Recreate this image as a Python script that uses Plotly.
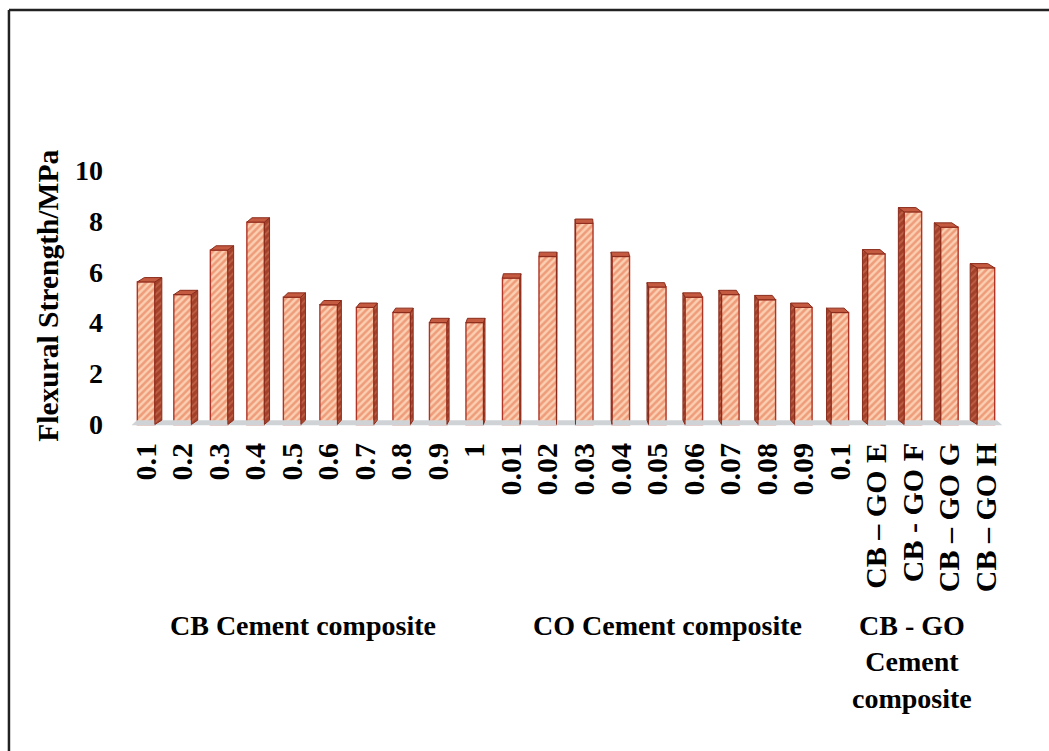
import plotly.graph_objects as go

# Flexural strength of the cement composites (MPa)
tick_labels = [
    "0.1", "0.2", "0.3", "0.4", "0.5", "0.6", "0.7", "0.8", "0.9", "1",
    "0.01", "0.02", "0.03", "0.04", "0.05", "0.06", "0.07", "0.08", "0.09", "0.1",
    "CB – GO E", "CB - GO F", "CB – GO G", "CB – GO H",
]
strength = [
    5.6, 5.1, 6.85, 7.95, 5.0, 4.7, 4.6, 4.4, 4.0, 4.0,
    5.75, 6.6, 7.9, 6.6, 5.4, 5.0, 5.1, 4.9, 4.6, 4.4,
    6.7, 8.35, 7.75, 6.15,
]
group_names = ["CB Cement composite", "CO Cement composite", "CB - GO<br>Cement<br>composite"]
group_first = [0, 10, 20]
group_last = [9, 19, 23]
y_ticks = [0, 2, 4, 6, 8, 10]

FONT = "Liberation Serif"
positions = list(range(len(strength)))

BAR_W = 0.48          # front-face width (category units)
DEPTH_K = 0.0166      # perspective: side offset per unit distance from centre
VANISH = 11.5         # horizontal vanishing position (category units)
RISE = 0.17           # top face rise (value units)

# side faces and top caps of the pseudo-3D bars, built from the values
side_x, side_y, cap_x, cap_y = [], [], [], []
for i, v in zip(positions, strength):
    dx = -DEPTH_K * (i - VANISH)
    edge = i + BAR_W / 2 if dx > 0 else i - BAR_W / 2
    side_x += [edge, edge, edge + dx, edge + dx, edge, None]
    side_y += [0, v, v + RISE, RISE, 0, None]
    lx, rx = i - BAR_W / 2, i + BAR_W / 2
    cap_x += [lx, rx, rx + dx, lx + dx, lx, None]
    cap_y += [v, v, v + RISE, v + RISE, v, None]

fig = go.Figure()

# floor strip
fig.add_trace(go.Scatter(
    x=[-0.4, 23.45, 23.3, -0.25, -0.4],
    y=[-0.03, -0.03, 0.17, 0.17, -0.03],
    fill="toself", mode="lines", line=dict(width=0),
    fillcolor="#cfd3d6", hoverinfo="skip", showlegend=False,
))

# side faces
fig.add_trace(go.Scatter(
    x=side_x, y=side_y, fill="toself", mode="lines",
    line=dict(color="#8a2c1c", width=1),
    fillcolor="#a3402a",
    fillpattern=dict(shape="/", bgcolor="#a3402a", fgcolor="#d8805f", size=5, solidity=0.35),
    hoverinfo="skip", showlegend=False,
))

# top caps
fig.add_trace(go.Scatter(
    x=cap_x, y=cap_y, fill="toself", mode="lines",
    line=dict(color="#8a2c1c", width=1),
    fillcolor="#c45a40", hoverinfo="skip", showlegend=False,
))

# front faces
fig.add_trace(go.Bar(
    x=positions, y=strength, width=BAR_W,
    marker=dict(
        color="#f8c1a0",
        line=dict(color="#b03526", width=1.4),
        pattern=dict(shape="/", bgcolor="#fbcfb2", fgcolor="#e26a42", size=5, solidity=0.52),
    ),
    hoverinfo="skip", showlegend=False,
))

fig.update_layout(
    width=1049, height=751,
    margin=dict(l=126, r=43, t=119, b=324),
    paper_bgcolor="white", plot_bgcolor="white",
    font=dict(family=FONT, color="black"),
    bargap=0.5,
    xaxis=dict(
        range=[-0.55, 23.55], tickmode="array",
        tickvals=positions, ticktext=tick_labels, tickangle=-90,
        tickfont=dict(family=FONT, size=30, weight="bold", color="black"),
        showgrid=False, zeroline=False, showline=False, ticks="",
        ticklabelstandoff=9,
    ),
    yaxis=dict(
        range=[-0.1, 12], tickmode="array", tickvals=y_ticks,
        tickfont=dict(family=FONT, size=28, weight="bold", color="black"),
        showgrid=False, zeroline=False, showline=False, ticks="",
        ticklabelstandoff=22,
    ),
)

# y-axis title
fig.add_annotation(
    text="Flexural Strength/MPa", textangle=-90,
    xref="paper", yref="paper", x=-0.089, y=0.425,
    xanchor="center", yanchor="middle", showarrow=False,
    font=dict(family=FONT, size=29.5, weight="bold", color="black"),
)

# group captions under the tick labels
shifts = [-7, -8, -19]
for name, a, b, sh in zip(group_names, group_first, group_last, shifts):
    fig.add_annotation(
        text=name, xref="x", yref="paper", x=(a + b) / 2, y=-0.588,
        xshift=sh, xanchor="center", yanchor="top", showarrow=False,
        align="center",
        font=dict(family=FONT, size=28, weight="bold", color="black"),
    )

# frame lines along the top and left edges
fig.add_shape(type="line", xref="paper", yref="paper",
              x0=-0.133, x1=1.06, y0=1.354, y1=1.354,
              line=dict(color="#222222", width=2.5))
fig.add_shape(type="line", xref="paper", yref="paper",
              x0=-0.133, x1=-0.133, y0=1.354, y1=-1.06,
              line=dict(color="#222222", width=2.5))

fig.write_html("out.html")
